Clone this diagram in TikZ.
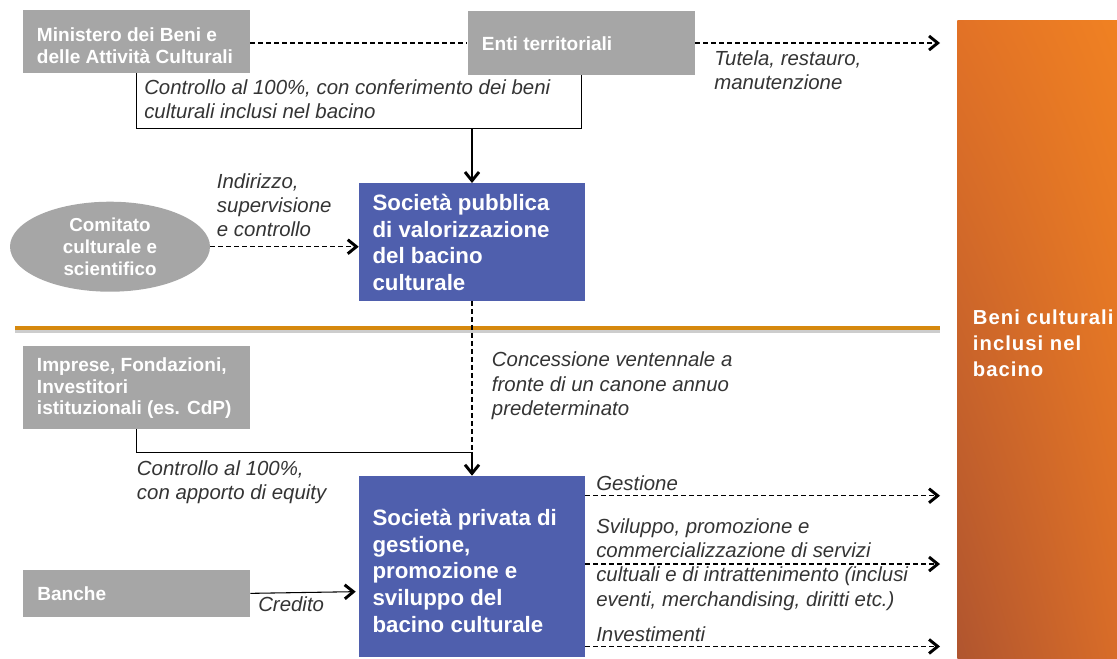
\documentclass[tikz,border=0pt]{standalone}
\usepackage{fontspec}
\setmainfont{Liberation Sans}
\newfontfamily\spacedsans[LetterSpace=5]{Liberation Sans}
\usetikzlibrary{arrows.meta,shapes.geometric,fit,calc,shadings}
\definecolor{boxgray}{RGB}{166,166,166}
\definecolor{boxblue}{RGB}{79,95,173}
\definecolor{labelgray}{RGB}{52,52,52}
\definecolor{rulecol}{RGB}{214,137,14}
\definecolor{ruleshadow}{RGB}{205,205,205}
\definecolor{orUL}{RGB}{226,114,38}
\definecolor{orUR}{RGB}{240,129,34}
\definecolor{orLL}{RGB}{176,85,47}
\definecolor{orLR}{RGB}{216,108,40}
\begin{document}
\begin{tikzpicture}[x=0.75pt,y=-0.75pt,
  graybox/.style={fill=boxgray, draw=none, inner sep=0pt},
  bluebox/.style={fill=boxblue, draw=none, inner sep=0pt},
  graytxt/.style={text=white, font=\fontsize{14.3pt}{16.2pt}\selectfont\bfseries, align=left, inner sep=0pt, anchor=north west},
  bluetxt/.style={text=white, font=\fontsize{16.7pt}{20.1pt}\selectfont\bfseries, align=left, inner sep=0pt, anchor=north west},
  lbl/.style={text=labelgray, font=\fontsize{15.3pt}{18.2pt}\selectfont\itshape, align=left, inner sep=0pt, anchor=north west},
  dashline/.style={draw=black, line width=0.95pt, dash pattern=on 3.75pt off 2.25pt},
  solidline/.style={draw=black, line width=0.8pt},
  tip/.style={-{Straight Barb[length=6.5pt,width=10.5pt,line width=2.2pt]}},
]
\useasboundingbox (0,0) rectangle (1117,658);

% orange panel
\node[fit={(957.3,20) (1117,658)}, inner sep=0pt, shade, upper left=orUL, upper right=orUR, lower left=orLL, lower right=orLR] (panel) {};
\node[anchor=north west, inner sep=0pt, text=white, align=left,
      font=\spacedsans\fontsize{15.2pt}{19.5pt}\selectfont\bfseries] (panelT) at (972.7,309.4) {Beni culturali\\inclusi nel\\bacino};

% horizontal rule
\draw[ruleshadow, line width=2.5pt] (15,331.8) -- (940,331.8);
\draw[rulecol, line width=3pt] (15,328.3) -- (940,328.3);

% boxes
\node[graybox, fit={(22.7,10) (250,73)}] (min) {};
\node[graytxt] (minT) at (36.7,27.5) {Ministero dei Beni e\\delle Attività Culturali};
\node[graybox, fit={(467.7,11) (695,75)}] (enti) {};
\node[graytxt] (entiT) at (481.7,36) {Enti territoriali};
\node[graybox, fit={(22.7,346) (250,429)}] (imp) {};
\node[graytxt] (impT) at (36.7,357.7) {Imprese, Fondazioni,\\Investitori\\istituzionali (es. CdP)};
\node[graybox, fit={(22.7,570) (250,616.7)}] (ban) {};
\node[graytxt] (banT) at (37,586.7) {Banche};

\node[bluebox, fit={(359,183.3) (585,300.7)}] (pub) {};
\node[bluetxt] (pubT) at (372.3,193.7) {Società pubblica\\di valorizzazione\\del bacino\\culturale};
\node[bluebox, fit={(359,476) (585,657)}] (priv) {};
\node[bluetxt] (privT) at (372.3,508.7) {Società privata di\\gestione,\\promozione e\\sviluppo del\\bacino culturale};

\node[ellipse, fill=boxgray, minimum width=150pt, minimum height=67.5pt, inner sep=0pt,
      text=white, align=center, font=\fontsize{14.1pt}{16.5pt}\selectfont\bfseries] (com) at (110,246.7) {Comitato\\culturale e\\scientifico};

% connectors
\coordinate (j1) at ($(pub.north)+(0,-55)$);
\draw[solidline] (min.south) |- (j1) -| (enti.south);
\draw[solidline, tip] (j1) -- (pub.north);
\draw[dashline] (enti.west -| min.east) -- (enti.west);
\draw[dashline, tip, shorten >=12.75pt] (enti.east) -- (enti.east -| panel.west);
\draw[dashline, tip] (com.east) -- (com.east -| pub.west);
\draw[dashline] (pub.south) -- (priv.north);
\coordinate (j2) at ($(priv.north)+(0,-23.3)$);
\draw[solidline] (imp.south) |- (j2);
\draw[solidline, tip] (j2) -- (priv.north);
\draw[solidline, tip] (ban.east) -- ($(ban.east -| priv.west)+(-3,-1.7)$);
\draw[dashline, tip, shorten >=12.75pt] ($(priv.north east)+(0,20)$) -- ($(priv.north east -| panel.west)+(0,20)$);
\draw[dashline, tip, shorten >=12.75pt] ($(priv.north east)+(0,88.3)$) -- ($(priv.north east -| panel.west)+(0,88.3)$);
\draw[dashline, tip, shorten >=12.75pt] ($(priv.north east)+(0,170.7)$) -- ($(priv.north east -| panel.west)+(0,170.7)$);

% labels
\node[lbl] (l1) at (144,79) {Controllo al 100\%, con conferimento dei beni\\culturali inclusi nel bacino};
\node[lbl] (l2) at (714,50.5) {Tutela, restauro,\\manutenzione};
\node[lbl] (l3) at (216.7,173) {Indirizzo,\\supervisione\\e controllo};
\node[lbl] (l4) at (491.7,351.7) {Concessione ventennale a\\fronte di un canone annuo\\predeterminato};
\node[lbl] (l5) at (136.7,460) {Controllo al 100\%,\\con apporto di equity};
\node[lbl] (l6) at (258,596.7) {Credito};
\node[lbl] (l7) at (596,475.7) {Gestione};
\node[lbl] (l8) at (596,518.3) {Sviluppo, promozione e\\commercializzazione di servizi\\cultuali e di intrattenimento (inclusi\\eventi, merchandising, diritti etc.)};
\node[lbl] (l9) at (596,626.7) {Investimenti};
\end{tikzpicture}
\end{document}
